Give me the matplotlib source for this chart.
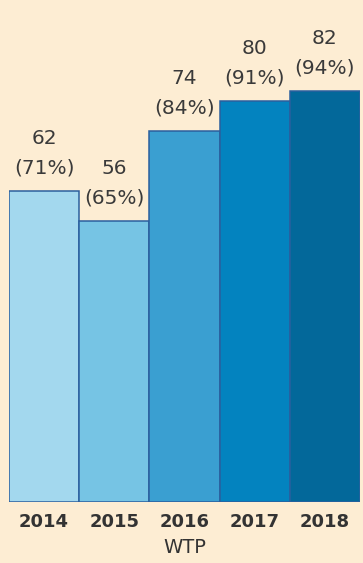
import matplotlib
matplotlib.use("Agg")
import matplotlib.pyplot as plt

years = ["2014", "2015", "2016", "2017", "2018"]
values = [62, 56, 74, 80, 82]
percents = ["71%", "65%", "84%", "91%", "94%"]
colors = ["#a3d8ee", "#76c4e4", "#3a9fd1", "#0383bf", "#03689a"]
xlabel = "WTP"

bg = "#fdedd3"
fig = plt.figure(figsize=(3.63, 5.63), dpi=100, facecolor=bg)
ax = fig.add_axes([9/363, 61/563, 351/363, 502/563])
ax.set_facecolor(bg)

x = list(range(len(years)))
ax.bar(x, values, width=1.0, color=colors, edgecolor="#2b5f9e", linewidth=1.1)

for xi, v, p in zip(x, values, percents):
    ax.annotate(f"{v}\n({p})", (xi, v), xytext=(0, 10), textcoords="offset points",
                ha="center", va="bottom", fontsize=14.5, color="#3a3a3a",
                linespacing=1.7, annotation_clip=False)

ax.set_xlim(-0.5, 4.5)
ax.set_ylim(0, 100.2)
ax.set_xticks(x)
ax.set_xticklabels(years, fontsize=13, color="#333333", fontweight="semibold")
ax.tick_params(axis="x", length=0, pad=8)
ax.set_yticks([])
for s in ax.spines.values():
    s.set_visible(False)
ax.set_xlabel(xlabel, fontsize=14, color="#333333", labelpad=5)

fig.savefig("out.png", dpi=100, facecolor=bg)
